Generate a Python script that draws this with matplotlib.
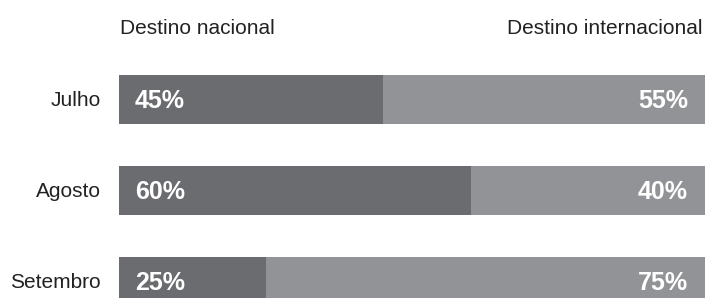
import matplotlib.pyplot as plt

months = ["Julho", "Agosto", "Setembro"]
nacional = [45, 60, 25]
internacional = [55, 40, 75]
headers = ["Destino nacional", "Destino internacional"]

dark = "#6b6c70"
light = "#929396"

plt.rcParams['font.family'] = ["Liberation Sans", "DejaVu Sans"]

W, H = 707, 298
fig = plt.figure(figsize=(W / 100, H / 100), dpi=100)
ax = fig.add_axes([0, 0, 1, 1])

# pixel geometry -> data coords
x0, x1 = 119, 705
px = (x1 - x0) / 100.0
pitch = 91.0
yc0 = 99.5
ax.set_xlim(-x0 / px, (W - x0) / px)
ax.set_ylim((H - yc0) / pitch, -yc0 / pitch)
ax.axis("off")

ypos = range(len(months))
ax.barh(ypos, nacional, height=0.53, color=dark, edgecolor="none")
ax.barh(ypos, internacional, left=nacional, height=0.53, color=light, edgecolor="none")

for i, m in enumerate(months):
    ax.text(-18 / px, i + 0.01, m, ha="right", va="center", fontsize=15, color="#222222")
    ax.text(16 / px, i + 0.02, f"{nacional[i]}%", ha="left", va="center",
            fontsize=18, fontweight="bold", color="white")
    ax.text(100 - 17 / px, i + 0.02, f"{internacional[i]}%", ha="right", va="center",
            fontsize=18, fontweight="bold", color="white")

hy = (28 - yc0) / pitch
ax.text(1 / px, hy, headers[0], ha="left", va="center", fontsize=15, color="#222222")
ax.text(100 - 2 / px, hy, headers[1], ha="right", va="center", fontsize=15, color="#222222")

fig.savefig("out.png", dpi=100)
